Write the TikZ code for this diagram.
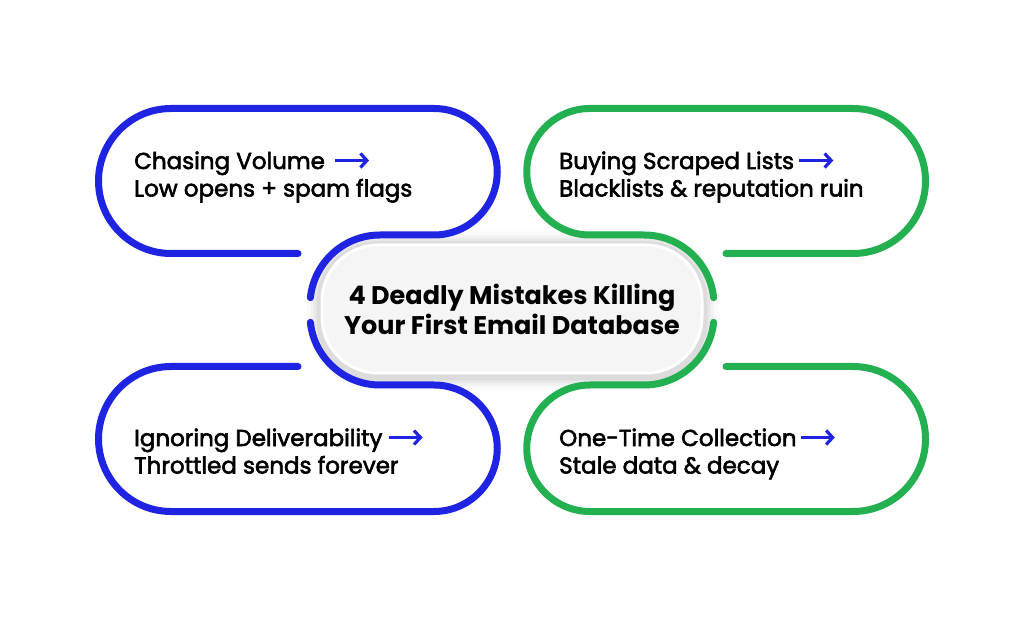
\documentclass[tikz,border=0pt]{standalone}
\usepackage{fontspec}
\setmainfont{Poppins}
\newfontfamily\medfont{Poppins}[FakeBold=2.5]
\usetikzlibrary{arrows.meta,positioning,backgrounds}
\definecolor{mblue}{HTML}{1E24E2}
\definecolor{mgreen}{HTML}{22B050}

\begin{document}
\begin{tikzpicture}[
  x=1pt, y=1pt,
  loop/.style   = {line width=7pt, line cap=round},
  body/.style   = {anchor=base west, inner sep=0pt,
                   font=\fontsize{23}{27}\selectfont\medfont},
  pill/.style   = {draw=white, line width=3pt, fill=black!4,
                   rounded corners=56pt, minimum width=380pt,
                   minimum height=128pt, inner sep=0pt, align=center,
                   font=\fontsize{25.5}{30}\selectfont\bfseries},
  arr/.style    = {-{Straight Barb[length=6.5pt,width=14pt]}, line width=3.2pt, mblue},
]
\useasboundingbox (0,0) rectangle (1024,621);

\node[pill] (title) at (512,312) {4 Deadly Mistakes Killing\\Your First Email Database};

\begin{scope}[on background layer]
  \fill[white] (0,0) rectangle (1024,621);
  \foreach \g/\o in {14/0.02, 10/0.03, 7/0.04, 4/0.05}
    \fill[black, opacity=\o, rounded corners=56pt+\g pt]
      ([shift={(-\g,-\g-2)}]title.south west) rectangle ([shift={(\g,\g-2)}]title.north east);
\end{scope}

\draw[loop, mblue] (298,367.5) -- (171,367.5) arc[start angle=270, end angle=90, radius=72.5]
  -- (434,512.5) arc[start angle=90, end angle=-90, radius=63.25]
  -- (380,386) arc[start angle=90, end angle=174, radius=70];
\draw[loop, mgreen] (726,367.5) -- (853,367.5) arc[start angle=270, end angle=450, radius=72.5]
  -- (590,512.5) arc[start angle=90, end angle=270, radius=63.25]
  -- (644,386) arc[start angle=90, end angle=6, radius=70];
\draw[loop, mblue] (298,254.5) -- (171,254.5) arc[start angle=90, end angle=270, radius=72.5]
  -- (434,109.5) arc[start angle=270, end angle=450, radius=63.25]
  -- (380,236) arc[start angle=270, end angle=186, radius=70];
\draw[loop, mgreen] (726,254.5) -- (853,254.5) arc[start angle=90, end angle=-90, radius=72.5]
  -- (590,109.5) arc[start angle=270, end angle=90, radius=63.25]
  -- (644,236) arc[start angle=270, end angle=354, radius=70];

\node[body] (vol1) at (134,452) {Chasing Volume};
\node[body] (vol2) at ([yshift=-27.5pt]vol1.base west) {Low opens + spam flags};
\node[body] (buy1) at (559,452) {Buying Scraped Lists};
\node[body] (buy2) at ([yshift=-27.5pt]buy1.base west) {Blacklists \& reputation ruin};
\node[body] (ign1) at (134,175) {Ignoring Deliverability};
\node[body] (ign2) at ([yshift=-27.5pt]ign1.base west) {Throttled sends forever};
\node[body] (one1) at (559,175) {One-Time Collection};
\node[body] (one2) at ([yshift=-27.5pt]one1.base west) {Stale data \& decay};

\draw[arr] ([shift={(10,8.5)}]vol1.base east) -- ++(34,0);
\draw[arr] ([shift={(5,8.5)}]buy1.base east) -- ++(34,0);
\draw[arr] ([shift={(6,8.5)}]ign1.base east) -- ++(34,0);
\draw[arr] ([shift={(4,8.5)}]one1.base east) -- ++(34,0);
\end{tikzpicture}
\end{document}
